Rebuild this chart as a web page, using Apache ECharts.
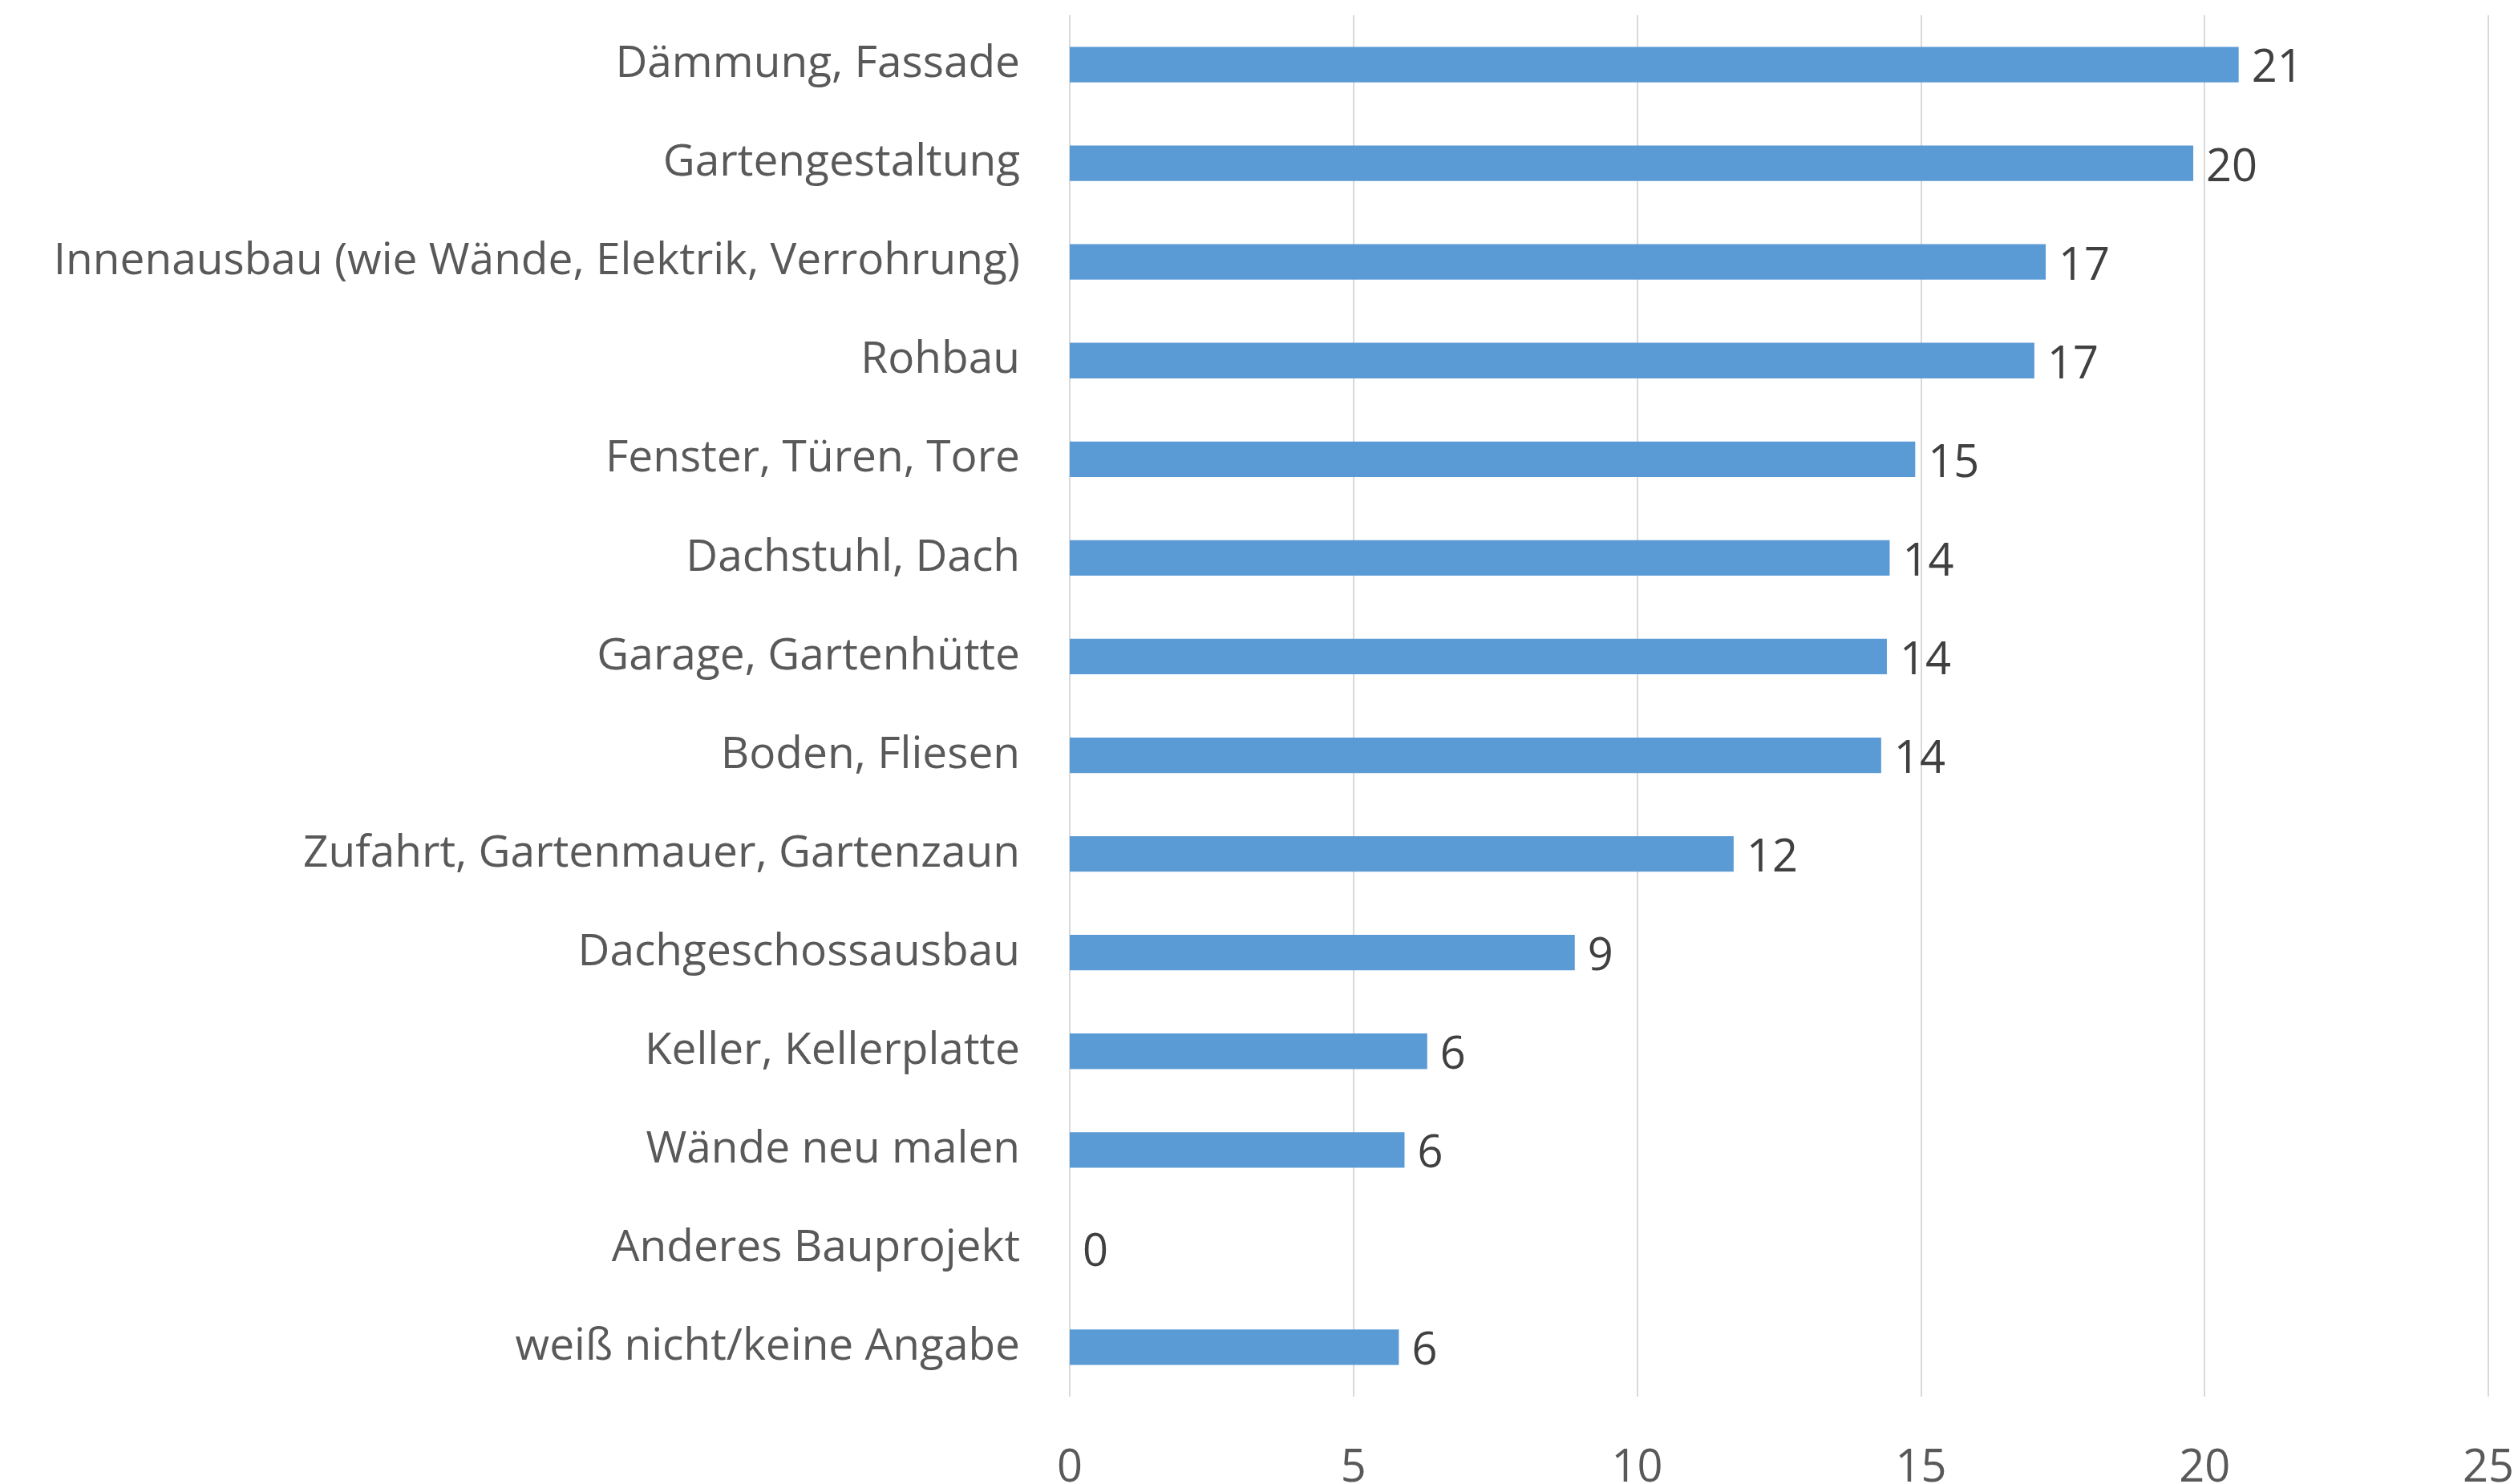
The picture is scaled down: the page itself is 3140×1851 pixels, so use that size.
<!DOCTYPE html>
<html>
<head>
<meta charset="utf-8">
<script src="https://cdn.jsdelivr.net/npm/echarts@6/dist/echarts.min.js"></script>
<style>
  html, body { margin: 0; padding: 0; background: #fff; }
  #chart { width: 3140px; height: 1851px; }
</style>
</head>
<body>
<div id="chart"></div>
<script>
// categories, top to bottom
const categories = [
  'Dämmung, Fassade',
  'Gartengestaltung',
  'Innenausbau (wie Wände, Elektrik, Verrohrung)',
  'Rohbau',
  'Fenster, Türen, Tore',
  'Dachstuhl, Dach',
  'Garage, Gartenhütte',
  'Boden, Fliesen',
  'Zufahrt, Gartenmauer, Gartenzaun',
  'Dachgeschossausbau',
  'Keller, Kellerplatte',
  'Wände neu malen',
  'Anderes Bauprojekt',
  'weiß nicht/keine Angabe'
]
// bar lengths (labels are shown rounded)
const values = [20.6, 19.8, 17.2, 17.0, 14.9, 14.45, 14.4, 14.3, 11.7, 8.9, 6.3, 5.9, 0, 5.8]
const xTicks = [0, 5, 10, 15, 20, 25]

const FONT = '"Open Sans", sans-serif'

const chart = echarts.init(document.getElementById('chart'))
chart.setOption({
  animation: false,
  grid: { left: 1334, right: 37, top: 19, bottom: 109, outerBoundsMode: 'none' },
  xAxis: {
    type: 'value',
    min: xTicks[0],
    max: xTicks[xTicks.length - 1],
    interval: 5,
    axisLine: { show: false },
    axisTick: { show: false },
    axisLabel: { color: '#595959', fontSize: 56, fontFamily: FONT, margin: 62 },
    splitLine: { lineStyle: { color: '#D9D9D9', width: 2 } }
  },
  yAxis: {
    type: 'category',
    inverse: true,
    data: categories,
    axisLine: { show: false },
    axisTick: { show: false },
    axisLabel: { color: '#595959', fontSize: 55, fontFamily: FONT, margin: 62 }
  },
  series: [{
    type: 'bar',
    data: values,
    barWidth: '36%',
    itemStyle: { color: '#5B9BD5' },
    label: {
      show: true,
      position: 'right',
      distance: 16,
      offset: [0, 6],
      color: '#404040',
      fontSize: 56,
      fontFamily: FONT,
      formatter: p => Math.round(p.value)
    }
  }]
})
</script>
</body>
</html>
